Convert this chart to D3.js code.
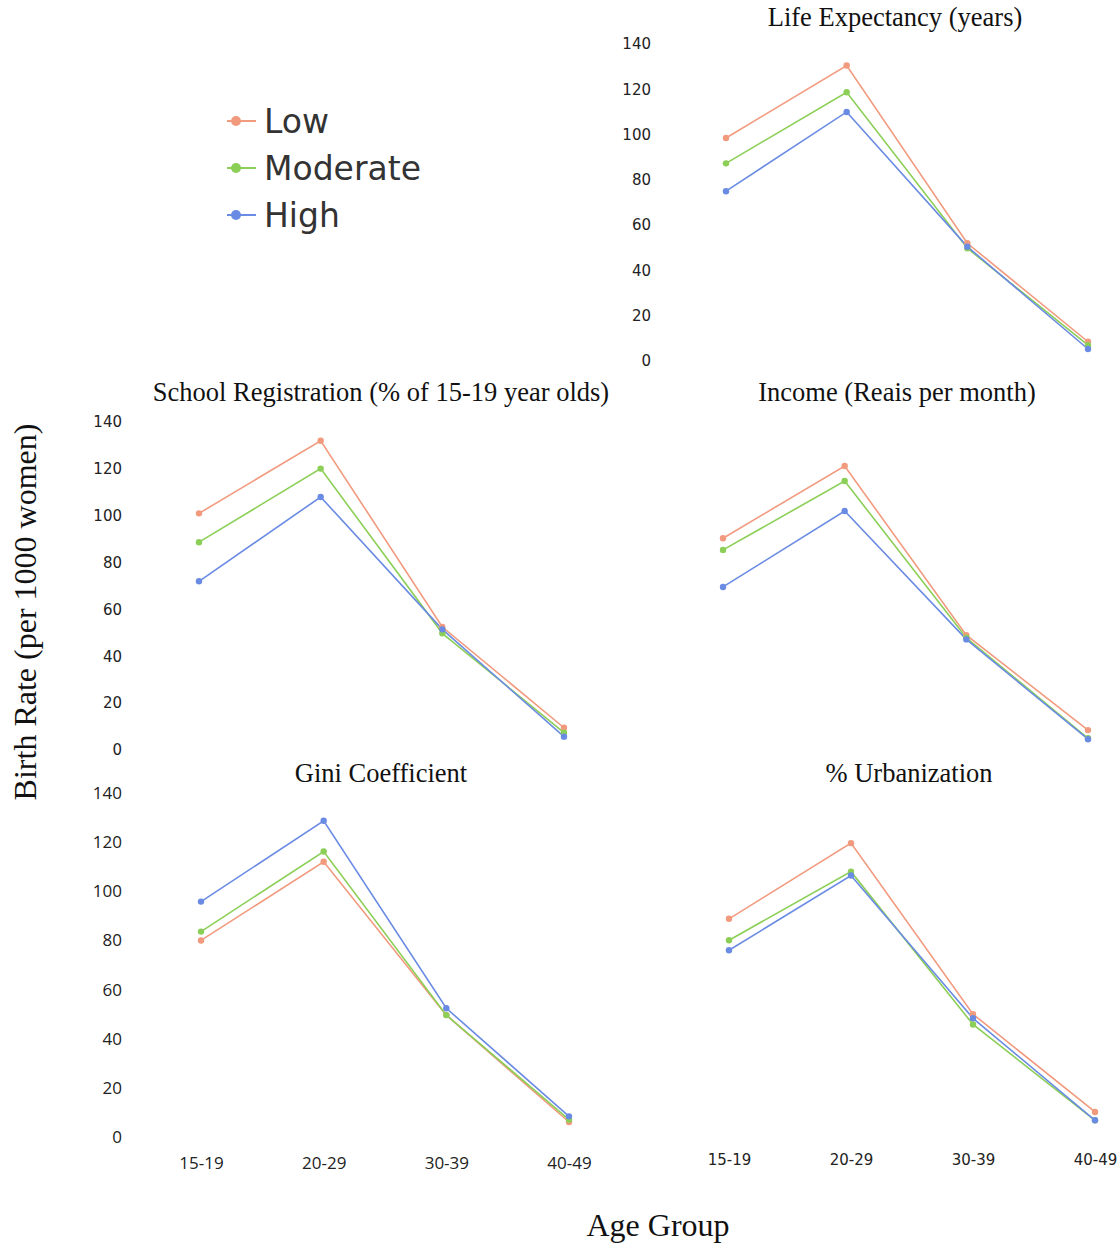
<!DOCTYPE html>
<html>
<head>
<meta charset="utf-8">
<script src="https://cdn.jsdelivr.net/npm/d3@7"></script>
<style>
  body { margin: 0; background: #fff; }
</style>
</head>
<body>
<main></main>
<script>
// Set dimensions
const w = 1117;
const h = 1246;

// Data
const ageGroups = ["15-19", "20-29", "30-39", "40-49"];
const levels = ["Low", "Moderate", "High"];
const yTicks = [0, 20, 40, 60, 80, 100, 120, 140];

const lifeExpectancy = {
  Low: [98.5, 130.5, 52, 8.5],
  Moderate: [87.3, 118.7, 49.8, 7],
  High: [75, 110, 50.5, 5.3],
};
const schoolRegistration = {
  Low: [101, 132, 52.5, 9.5],
  Moderate: [88.7, 120.1, 49.8, 7.4],
  High: [72, 108, 51.5, 5.7],
};
const income = {
  Low: [90.4, 121.2, 49, 8.5],
  Moderate: [85.4, 114.8, 47.9, 5],
  High: [69.6, 102, 47.2, 4.6],
};
const gini = {
  Low: [80, 112, 49.6, 6.1],
  Moderate: [83.6, 116.2, 49.6, 7.1],
  High: [95.8, 128.7, 52.4, 8.4],
};
const urbanization = {
  Low: [88.8, 119.6, 50, 10.2],
  Moderate: [80.1, 108, 45.8, 6.8],
  High: [76, 106.4, 48.3, 6.8],
};

// Colours
const color = d3
  .scaleOrdinal()
  .domain(levels)
  .range(["#f29a7e", "#8ccf57", "#6a8be3"]);

// Panels layout
const panels = [
  { title: "Life Expectancy (years)", data: lifeExpectancy, x: [726, 1088], y: [361, 44], titleX: 895, titleY: 26, yAxisX: 651, yFont: "DejaVu Sans", xAxis: false },
  { title: "School Registration (% of 15-19 year olds)", data: schoolRegistration, x: [199, 564], y: [750, 422], titleX: 381, titleY: 401, yAxisX: 122, yFont: "DejaVu Sans", xAxis: false },
  { title: "Income (Reais per month)", data: income, x: [723, 1088], y: [750, 422], titleX: 897, titleY: 401, yAxisX: null, xAxis: false },
  { title: "Gini Coefficient", data: gini, x: [201, 569], y: [1137, 793], titleX: 381, titleY: 782, yAxisX: 122, yFont: "Open Sans", xAxis: true, xLabelY: 1169, xFont: "Open Sans" },
  { title: "% Urbanization", data: urbanization, x: [729, 1095], y: [1137, 793], titleX: 909, titleY: 782, yAxisX: null, xAxis: true, xLabelY: 1166, xFont: "DejaVu Sans" },
];

// Create svg
const svg = d3
  .select("main")
  .append("svg")
  .attr("width", w)
  .attr("height", h)
  .attr("viewBox", `0 0 ${w} ${h}`);

panels.forEach((p) => {
  const xScale = d3.scalePoint().domain(ageGroups).range(p.x);
  const yScale = d3.scaleLinear().domain([0, 140]).range(p.y);
  const g = svg.append("g");

  // Title
  g.append("text")
    .attr("x", p.titleX)
    .attr("y", p.titleY)
    .attr("text-anchor", "middle")
    .attr("font-family", "Liberation Serif, serif")
    .attr("font-size", 26.5)
    .attr("fill", "#111")
    .text(p.title);

  // Y axis (labels only)
  if (p.yAxisX !== null) {
    const yAxis = d3.axisLeft(yScale).tickValues(yTicks).tickSize(0).tickPadding(0);
    const ya = g
      .append("g")
      .attr("transform", `translate(${p.yAxisX}, 0)`)
      .call(yAxis);
    ya.select(".domain").remove();
    ya.selectAll("text")
      .attr("font-family", p.yFont)
      .attr("font-size", p.yFont === "Open Sans" ? 17 : 15)
      .attr("fill", "#222");
  }

  // X axis (labels only)
  if (p.xAxis) {
    const xAxis = d3.axisBottom(xScale).tickSize(0).tickPadding(0);
    const xa = g
      .append("g")
      .attr("transform", `translate(0, ${p.xLabelY - 12})`)
      .call(xAxis);
    xa.select(".domain").remove();
    xa.selectAll("text")
      .attr("font-family", p.xFont)
      .attr("font-size", p.xFont === "Open Sans" ? 17 : 15)
      .attr("fill", "#222");
  }

  // Lines and points
  const line = d3
    .line()
    .x((d, i) => xScale(ageGroups[i]))
    .y((d) => yScale(d));

  levels.forEach((lvl) => {
    g.append("path")
      .datum(p.data[lvl])
      .attr("d", line)
      .attr("fill", "none")
      .attr("stroke", color(lvl))
      .attr("stroke-width", 1.6);
  });

  levels.forEach((lvl) => {
    g.selectAll(null)
      .data(p.data[lvl])
      .enter()
      .append("circle")
      .attr("cx", (d, i) => xScale(ageGroups[i]))
      .attr("cy", (d) => yScale(d))
      .attr("r", 3.2)
      .attr("fill", color(lvl));
  });
});

// Legend
const legend = svg.append("g").attr("transform", "translate(227, 121)");
levels.forEach((lvl, i) => {
  const row = legend.append("g").attr("transform", `translate(0, ${i * 47})`);
  row.append("line")
    .attr("x1", 0)
    .attr("x2", 29)
    .attr("y1", 0)
    .attr("y2", 0)
    .attr("stroke", color(lvl))
    .attr("stroke-width", 2);
  row.append("circle")
    .attr("cx", 9)
    .attr("cy", 0)
    .attr("r", 5)
    .attr("fill", color(lvl));
  row.append("text")
    .attr("x", 37)
    .attr("y", 12)
    .attr("font-family", "DejaVu Sans, sans-serif")
    .attr("font-size", 33)
    .attr("fill", "#333")
    .text(lvl);
});

// Axis titles
svg
  .append("text")
  .attr("text-anchor", "middle")
  .attr("transform", `translate(36, 612) rotate(-90)`)
  .attr("font-family", "Liberation Serif, serif")
  .attr("font-size", 32)
  .attr("fill", "#111")
  .text("Birth Rate (per 1000 women)");

svg
  .append("text")
  .attr("text-anchor", "middle")
  .attr("x", 658)
  .attr("y", 1236)
  .attr("font-family", "Liberation Serif, serif")
  .attr("font-size", 32)
  .attr("fill", "#111")
  .text("Age Group");
</script>
</body>
</html>
